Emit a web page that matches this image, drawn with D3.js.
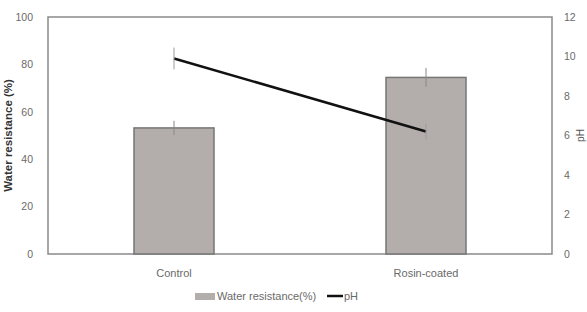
<!DOCTYPE html>
<html><head><meta charset="utf-8">
<script src="https://cdn.jsdelivr.net/npm/d3@7"></script>
<style>body{margin:0;background:#fff}text{font-family:"Liberation Sans",Arial,sans-serif}</style>
</head><body><svg id="c" width="587" height="312"></svg>
<script>
const categories = ["Control", "Rosin-coated"];
const waterResistance = [53.2, 74.5];
const waterErr = [3, 4];
const pH = [9.9, 6.2];
const pHErr = [0.55, 0.4];
const leftTicks = [0, 20, 40, 60, 80, 100];
const rightTicks = [0, 2, 4, 6, 8, 10, 12];

const svg = d3.select("#c");
const m = {l: 48, r: 552, t: 17, b: 254};
const x = d3.scaleBand().domain(categories).range([m.l, m.r]).paddingInner(0).paddingOuter(0);
const yL = d3.scaleLinear().domain([0, 100]).range([m.b, m.t]);
const yR = d3.scaleLinear().domain([0, 12]).range([m.b, m.t]);
const barW = 80;
const txt = "#6a6a6a";

// frame
svg.append("rect").attr("x", m.l).attr("y", m.t).attr("width", m.r - m.l).attr("height", m.b - m.t)
  .attr("fill", "none").attr("stroke", "#8a8a8a").attr("stroke-width", 1.5);

// left ticks
const gL = svg.append("g").attr("transform", `translate(${m.l},0)`)
  .call(d3.axisLeft(yL).tickValues(leftTicks).tickSize(0).tickPadding(15));
gL.select(".domain").remove();
gL.selectAll("text").attr("fill", txt).attr("font-size", 10.5);

const gR = svg.append("g").attr("transform", `translate(${m.r},0)`)
  .call(d3.axisRight(yR).tickValues(rightTicks).tickSize(0).tickPadding(12));
gR.select(".domain").remove();
gR.selectAll("text").attr("fill", txt).attr("font-size", 10.5);

// bars
categories.forEach((c, i) => {
  const cx = x(c) + x.bandwidth() / 2;
  svg.append("rect").attr("x", cx - barW / 2).attr("y", yL(waterResistance[i]))
    .attr("width", barW).attr("height", yL(0) - yL(waterResistance[i]))
    .attr("fill", "#b3aeab").attr("stroke", "#767676").attr("stroke-width", 1.5);
  svg.append("line").attr("x1", cx).attr("x2", cx)
    .attr("y1", yL(waterResistance[i] - waterErr[i])).attr("y2", yL(waterResistance[i] + waterErr[i]))
    .attr("stroke", "#888").attr("stroke-width", 1);
});

// pH line
const line = d3.line().x((d, i) => x(categories[i]) + x.bandwidth() / 2).y(d => yR(d));
svg.append("path").datum(pH).attr("d", line).attr("fill", "none").attr("stroke", "#111").attr("stroke-width", 2.5);
categories.forEach((c, i) => {
  const cx = x(c) + x.bandwidth() / 2;
  svg.append("line").attr("x1", cx).attr("x2", cx)
    .attr("y1", yR(pH[i] - pHErr[i])).attr("y2", yR(pH[i] + pHErr[i]))
    .attr("stroke", "#999").attr("stroke-width", 1);
});

// category labels
categories.forEach(c => {
  svg.append("text").attr("x", x(c) + x.bandwidth() / 2).attr("y", 277).attr("text-anchor", "middle")
    .attr("fill", txt).attr("font-size", 11).text(c);
});

// axis titles
svg.append("text").attr("transform", `translate(12,${(m.t + m.b) / 2}) rotate(-90)`).attr("text-anchor", "middle")
  .attr("fill", "#333").attr("font-size", 11.5).attr("font-weight", "bold").text("Water resistance (%)");
svg.append("text").attr("transform", `translate(584,${(m.t + m.b) / 2}) rotate(-90)`).attr("text-anchor", "middle")
  .attr("fill", "#555").attr("font-size", 10).text("pH");

// legend
svg.append("rect").attr("x", 195).attr("y", 293).attr("width", 20).attr("height", 7).attr("fill", "#b3aeab");
svg.append("text").attr("x", 217).attr("y", 300).attr("fill", txt).attr("font-size", 11).text("Water resistance(%)");
svg.append("line").attr("x1", 327).attr("x2", 343).attr("y1", 296).attr("y2", 296).attr("stroke", "#111").attr("stroke-width", 2.5);
svg.append("text").attr("x", 344).attr("y", 300).attr("fill", txt).attr("font-size", 11).text("pH");
</script></body></html>
